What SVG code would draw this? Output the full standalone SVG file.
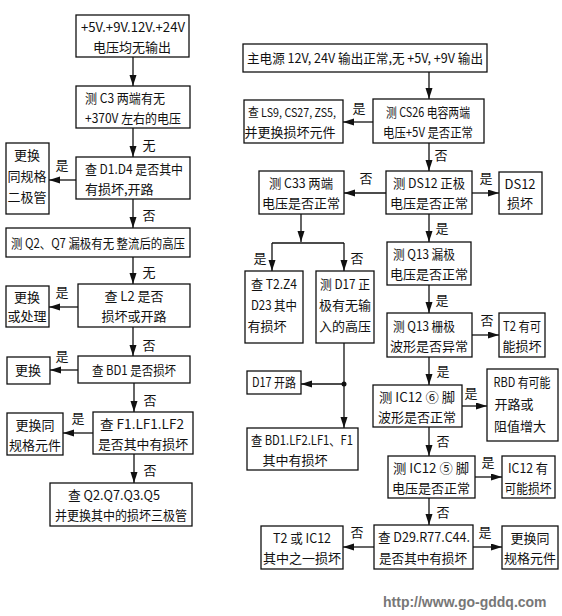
<svg xmlns="http://www.w3.org/2000/svg" width="562" height="616" viewBox="0 0 562 616">
<style>
rect{fill:#fff;stroke:#111;stroke-width:1.3}
text{font-family:"Noto Sans CJK SC","Noto Sans",sans-serif;font-size:13px;fill:#111;text-anchor:middle}
.s{text-anchor:start}
.c line{stroke:#111;stroke-width:1.3;fill:none}
.wm{font-family:"Liberation Sans",Arial,sans-serif;font-weight:bold;font-size:14px;fill:#777;text-anchor:start}
</style>
<defs>
<marker id="a" markerWidth="12" markerHeight="8" refX="11" refY="3.5" orient="auto" markerUnits="userSpaceOnUse">
<path d="M0,0 L11,3.5 L0,7 z" fill="#111"/>
</marker>
</defs>
<rect width="562" height="616" style="fill:#fff;stroke:none"/>

<!-- Left column -->
<g id="L1"><rect x="76" y="15" width="113" height="42"/><text x="133" y="32" textLength="104" lengthAdjust="spacingAndGlyphs">+5V.+9V.12V.+24V</text><text x="132" y="52">电压均无输出</text></g>
<g id="L2"><rect x="76" y="86" width="114" height="42"/><text class="s" x="85" y="103" textLength="80" lengthAdjust="spacingAndGlyphs">测 C3 两端有无</text><text class="s" x="85" y="123" textLength="96" lengthAdjust="spacingAndGlyphs">+370V 左右的电压</text></g>
<g id="L3"><rect x="76" y="157" width="114" height="42"/><text class="s" x="85" y="174" textLength="98" lengthAdjust="spacingAndGlyphs">查 D1.D4 是否其中</text><text class="s" x="85" y="194">有损坏,开路</text></g>
<g id="L3b"><rect x="6" y="143" width="43" height="71"/><text x="27" y="160">更换</text><text x="27" y="181">同规格</text><text x="27" y="202">二极管</text></g>
<g id="L4"><rect x="6" y="228" width="184" height="29"/><text x="98" y="248" textLength="174" lengthAdjust="spacingAndGlyphs">测 Q2、Q7 漏极有无 整流后的高压</text></g>
<g id="L5"><rect x="78" y="284" width="112" height="43"/><text x="134" y="301">查 L2 是否</text><text x="134" y="321">损坏或开路</text></g>
<g id="L5b"><rect x="6" y="286" width="43" height="41"/><text x="27" y="302">更换</text><text x="27" y="321">或处理</text></g>
<g id="L6"><rect x="78" y="356" width="112" height="27"/><text x="134" y="375" textLength="84" lengthAdjust="spacingAndGlyphs">查 BD1 是否损坏</text></g>
<g id="L6b"><rect x="7" y="357" width="43" height="27"/><text x="28" y="375">更换</text></g>
<g id="L7"><rect x="93" y="412" width="100" height="42"/><text class="s" x="100" y="429" textLength="84" lengthAdjust="spacingAndGlyphs">查 F1.LF1.LF2</text><text x="143" y="449" textLength="90" lengthAdjust="spacingAndGlyphs">是否其中有损坏</text></g>
<g id="L7b"><rect x="7" y="413" width="56" height="42"/><text x="35" y="430">更换同</text><text x="35" y="450">规格元件</text></g>
<g id="L8"><rect x="50" y="483" width="142" height="43"/><text class="s" x="68" y="500" textLength="92" lengthAdjust="spacingAndGlyphs">查 Q2.Q7.Q3.Q5</text><text x="121" y="520" textLength="132" lengthAdjust="spacingAndGlyphs">并更换其中的损坏三极管</text></g>

<!-- Right column -->
<g id="R1"><rect x="243" y="44" width="244" height="28"/><text x="365" y="63" textLength="236" lengthAdjust="spacingAndGlyphs">主电源 12V, 24V 输出正常,无 +5V, +9V 输出</text></g>
<g id="R2"><rect x="373" y="99" width="111" height="44"/><text x="428" y="117" textLength="84" lengthAdjust="spacingAndGlyphs">测 CS26 电容两端</text><text x="428" y="137" textLength="90" lengthAdjust="spacingAndGlyphs">电压+5V 是否正常</text></g>
<g id="R2b"><rect x="244" y="100" width="99" height="43"/><text class="s" x="248" y="117" style="font-size:12px" textLength="88" lengthAdjust="spacingAndGlyphs">查 LS9, CS27, ZS5,</text><text x="290" y="137">并更换损坏元件</text></g>
<g id="R3"><rect x="386" y="171" width="86" height="43"/><text x="429" y="188" textLength="72" lengthAdjust="spacingAndGlyphs">测 DS12 正极</text><text x="429" y="208">电压是否正常</text></g>
<g id="R3r"><rect x="499" y="172" width="43" height="42"/><text x="520" y="189">DS12</text><text x="520" y="208">损坏</text></g>
<g id="R3l"><rect x="259" y="171" width="85" height="43"/><text x="301" y="188" textLength="64" lengthAdjust="spacingAndGlyphs">测 C33 两端</text><text x="301" y="208">电压是否正常</text></g>
<g id="T2Z4"><rect x="245" y="271" width="58" height="72"/><text x="274" y="289" textLength="46" lengthAdjust="spacingAndGlyphs">查 T2.Z4</text><text x="274" y="310" textLength="46" lengthAdjust="spacingAndGlyphs">D23 其中</text><text x="267" y="331">有损坏</text></g>
<g id="D17"><rect x="316" y="271" width="58" height="72"/><text x="345" y="289" textLength="50" lengthAdjust="spacingAndGlyphs">测 D17 正</text><text x="345" y="310">极有无输</text><text x="345" y="331">入的高压</text></g>
<g id="D17o"><rect x="247" y="371" width="54" height="23"/><text x="274" y="387" textLength="44" lengthAdjust="spacingAndGlyphs">D17 开路</text></g>
<g id="BD1"><rect x="247" y="428" width="111" height="42"/><text class="s" x="251" y="445" textLength="102" lengthAdjust="spacingAndGlyphs">查 BD1.LF2.LF1、F1</text><text x="295" y="465">其中有损坏</text></g>
<g id="Q13d"><rect x="387" y="242" width="84" height="43"/><text x="424" y="259" textLength="62" lengthAdjust="spacingAndGlyphs">测 Q13 漏极</text><text x="429" y="279">电压是否正常</text></g>
<g id="Q13g"><rect x="387" y="313" width="85" height="44"/><text x="424" y="331" textLength="62" lengthAdjust="spacingAndGlyphs">测 Q13 栅极</text><text x="429" y="351">波形是否异常</text></g>
<g id="T2"><rect x="499" y="313" width="46" height="44"/><text x="522" y="331" textLength="38" lengthAdjust="spacingAndGlyphs">T2 有可</text><text x="522" y="351">能损坏</text></g>
<g id="IC6"><rect x="373" y="385" width="89" height="42"/><text x="417" y="402" textLength="76" lengthAdjust="spacingAndGlyphs">测 IC12 ⑥ 脚</text><text x="417" y="422">波形是否正常</text></g>
<g id="RBD"><rect x="487" y="369" width="71" height="72"/><text x="522" y="387" textLength="57" lengthAdjust="spacingAndGlyphs">RBD 有可能</text><text x="514" y="409">开路或</text><text x="520" y="431">阻值增大</text></g>
<g id="IC5"><rect x="388" y="456" width="87" height="42"/><text x="431" y="473" textLength="76" lengthAdjust="spacingAndGlyphs">测 IC12 ⑤ 脚</text><text x="431" y="493">电压是否正常</text></g>
<g id="IC12"><rect x="502" y="456" width="53" height="42"/><text x="528" y="473" textLength="40" lengthAdjust="spacingAndGlyphs">IC12 有</text><text x="528" y="493" textLength="47" lengthAdjust="spacingAndGlyphs">可能损坏</text></g>
<g id="D29"><rect x="374" y="525" width="99" height="44"/><text x="424" y="542" textLength="92" lengthAdjust="spacingAndGlyphs">查 D29.R77.C44.</text><text x="423" y="563" textLength="88" lengthAdjust="spacingAndGlyphs">是否其中有损坏</text></g>
<g id="T2IC"><rect x="261" y="526" width="82" height="43"/><text x="302" y="543" textLength="58" lengthAdjust="spacingAndGlyphs">T2 或 IC12</text><text x="302" y="563">其中之一损坏</text></g>
<g id="RP"><rect x="502" y="526" width="56" height="43"/><text x="530" y="543">更换同</text><text x="530" y="563">规格元件</text></g>

<g class="c">
<line x1="133" y1="57" x2="133" y2="86" marker-end="url(#a)"/>
<line x1="133" y1="128" x2="133" y2="157" marker-end="url(#a)"/>
<line x1="76" y1="180" x2="49" y2="180" marker-end="url(#a)"/>
<line x1="133" y1="199" x2="133" y2="228" marker-end="url(#a)"/>
<line x1="133" y1="257" x2="133" y2="284" marker-end="url(#a)"/>
<line x1="78" y1="307" x2="49" y2="307" marker-end="url(#a)"/>
<line x1="133" y1="327" x2="133" y2="356" marker-end="url(#a)"/>
<line x1="78" y1="370" x2="50" y2="370" marker-end="url(#a)"/>
<line x1="134" y1="383" x2="134" y2="412" marker-end="url(#a)"/>
<line x1="93" y1="433" x2="63" y2="433" marker-end="url(#a)"/>
<line x1="134" y1="454" x2="134" y2="483" marker-end="url(#a)"/>

<line x1="429" y1="72" x2="429" y2="99" marker-end="url(#a)"/>
<line x1="373" y1="122" x2="343" y2="122" marker-end="url(#a)"/>
<line x1="429" y1="143" x2="429" y2="171" marker-end="url(#a)"/>
<line x1="472" y1="193" x2="499" y2="193" marker-end="url(#a)"/>
<line x1="386" y1="193" x2="344" y2="193" marker-end="url(#a)"/>
<line x1="301" y1="214" x2="301" y2="242" marker-end="url(#a)"/>
<line x1="272" y1="243" x2="344" y2="243"/>
<line x1="272" y1="243" x2="272" y2="271" marker-end="url(#a)"/>
<line x1="344" y1="243" x2="344" y2="271" marker-end="url(#a)"/>
<line x1="344" y1="343" x2="344" y2="428" marker-end="url(#a)"/>
<line x1="344" y1="384" x2="301" y2="384" marker-end="url(#a)"/>
<circle cx="344" cy="384" r="2.5" fill="#111"/>
<line x1="429" y1="214" x2="429" y2="242" marker-end="url(#a)"/>
<line x1="429" y1="285" x2="429" y2="313" marker-end="url(#a)"/>
<line x1="472" y1="335" x2="499" y2="335" marker-end="url(#a)"/>
<line x1="429" y1="357" x2="429" y2="385" marker-end="url(#a)"/>
<line x1="462" y1="406" x2="487" y2="406" marker-end="url(#a)"/>
<line x1="429" y1="427" x2="429" y2="456" marker-end="url(#a)"/>
<line x1="475" y1="477" x2="502" y2="477" marker-end="url(#a)"/>
<line x1="429" y1="498" x2="429" y2="525" marker-end="url(#a)"/>
<line x1="374" y1="547" x2="343" y2="547" marker-end="url(#a)"/>
<line x1="473" y1="547" x2="502" y2="547" marker-end="url(#a)"/>
</g>

<g id="labels">
<text x="149" y="150">无</text>
<text x="62" y="170">是</text>
<text x="149" y="220">否</text>
<text x="149" y="277">无</text>
<text x="62" y="297">是</text>
<text x="149" y="350">否</text>
<text x="62" y="361">是</text>
<text x="150" y="405">否</text>
<text x="78" y="423">是</text>
<text x="150" y="475">否</text>

<text x="359" y="113">是</text>
<text x="441" y="160">否</text>
<text x="486" y="183">是</text>
<text x="366" y="183">否</text>
<text x="260" y="263">是</text>
<text x="357" y="263">否</text>
<text x="442" y="233">是</text>
<text x="442" y="305">是</text>
<text x="487" y="325">否</text>
<text x="443" y="376">是</text>
<text x="471" y="398">是</text>
<text x="443" y="446">否</text>
<text x="488" y="467">是</text>
<text x="443" y="517">否</text>
<text x="357" y="537">否</text>
<text x="485" y="537">是</text>
</g>

<text class="wm" x="383" y="607">http://www.go-gddq.com</text>
</svg>
